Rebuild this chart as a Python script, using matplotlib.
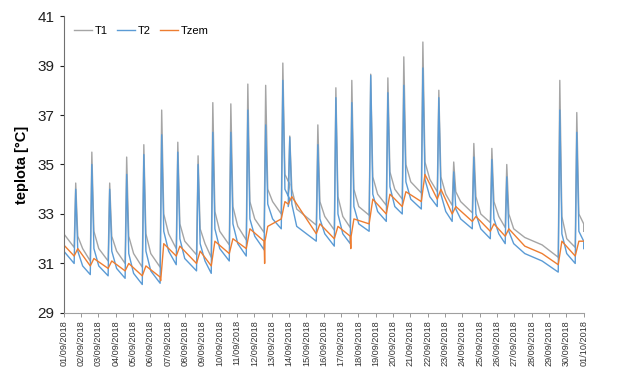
import matplotlib
matplotlib.use("Agg")
import matplotlib.pyplot as plt
import numpy as np

plt.rcParams['font.family'] = ['Liberation Sans', 'DejaVu Sans']

# ---------------- data ----------------
date_labels = ["%02d/09/2018" % d for d in range(1, 31)] + ["01/10/2018"]

# spike time (in days from 01/09 00:00); None = no spike that day
spike_t = [0.69, 1.62, 2.65, 3.63, 4.62, 5.65, 6.58, 7.75, 8.60, 9.64,
           10.62, 11.65, 12.64, 13.04, 14.66, 15.70, 16.62, 17.71, 18.70, 19.62,
           20.72, 21.64, 22.50, 23.66, 24.70, 25.56, None, None, 28.62, 29.60]

# T1 (grey)
t1_start, t1_end = 32.2, 32.3
t1_min = [31.65, 31.10, 31.10, 31.00, 30.85, 30.85, 31.60, 31.35, 31.25, 31.75,
          31.95, 32.25, 33.00, 33.80, 32.55, 32.35, 32.45, 32.95, 33.35, 33.60,
          33.85, 33.90, 33.35, 33.05, 32.65, 32.45, 32.05, 31.75, 31.25, 31.65]
t1_peak = [34.25, 35.5, 34.25, 35.3, 35.8, 37.2, 35.9, 35.35, 37.5, 37.45,
           38.25, 38.2, 39.1, 36.15, 36.6, 38.1, 38.4, 38.65, 38.5, 39.35,
           39.95, 38.0, 35.1, 35.85, 35.65, 35.0, None, None, 38.4, 37.1]
t1_after = [32.1, 32.3, 32.1, 32.1, 32.2, 33.0, 32.6, 32.4, 33.1, 33.3,
            33.5, 34.0, 34.6, 34.0, 33.5, 33.7, 34.0, 34.5, 34.7, 35.0,
            35.1, 34.5, 33.9, 33.7, 33.5, 33.0, None, None, 32.9, 33.0]
t1_mid = [31.6, 31.6, 31.5, 31.4, 31.4, 32.2, 31.9, 31.8, 32.3, 32.5,
          32.8, 33.5, 34.2, 33.2, 32.9, 32.9, 33.3, 33.8, 34.0, 34.3,
          34.4, 33.8, 33.5, 33.0, 32.9, 32.4, None, None, 32.0, 32.6]

# T2 (blue)
t2_start, t2_end = 31.5, 31.6
t2_min = [31.00, 30.55, 30.50, 30.40, 30.15, 30.20, 30.95, 30.70, 30.60, 31.10,
          31.30, 31.55, 32.40, 33.30, 31.90, 31.70, 31.80, 32.30, 32.70, 33.00,
          33.20, 33.30, 32.70, 32.40, 32.00, 31.80, 31.40, 31.10, 30.65, 31.00]
t2_peak = [34.0, 35.0, 34.0, 34.6, 35.4, 36.2, 35.5, 35.0, 36.3, 36.3,
           37.2, 36.6, 38.4, 36.1, 35.8, 37.7, 37.5, 38.6, 37.9, 38.2,
           38.9, 37.7, 34.7, 35.3, 35.2, 34.5, None, None, 37.2, 36.3]
t2_after = [31.5, 31.6, 31.5, 31.4, 31.5, 32.3, 32.0, 31.8, 32.4, 32.6,
            32.8, 33.4, 34.0, 33.4, 32.8, 33.0, 33.3, 33.8, 34.1, 34.3,
            34.4, 33.8, 33.2, 33.0, 32.8, 32.3, None, None, 32.2, 32.3]
t2_mid = [30.9, 30.9, 30.8, 30.6, 30.7, 31.5, 31.2, 31.1, 31.6, 31.8,
          32.1, 32.8, 33.6, 32.5, 32.2, 32.2, 32.6, 33.1, 33.3, 33.6,
          33.7, 33.1, 32.8, 32.4, 32.2, 31.8, None, None, 31.4, 31.9]

# Tzem (orange)
tz_start, tz_end = 31.75, 31.9
tz_min = [31.30, 30.90, 30.80, 30.70, 30.50, 30.45, 31.30, 31.00, 30.90, 31.40,
          31.60, 31.90, 32.80, 33.40, 32.20, 32.00, 32.10, 32.60, 33.00, 33.30,
          33.50, 33.60, 33.00, 32.70, 32.30, 32.10, 31.70, 31.40, 30.95, 31.30]
tz_after = [31.6, 31.2, 31.1, 31.0, 30.9, 31.8, 31.7, 31.5, 31.9, 32.0,
            32.4, 32.5, 33.5, 33.7, 32.6, 32.5, 32.8, 33.6, 33.8, 33.9,
            34.6, 34.0, 33.3, 32.9, 32.6, 32.4, None, None, 31.9, 31.9]
tz_dip = {5: 30.3, 11: 31.0, 16: 31.6}

# ---------------- build series ----------------
def build(start, end, mins, peaks, afters, mids=None, dips=None):
    xs, ys = [0.0], [start]
    for d in range(30):
        ts = spike_t[d]
        if ts is None:
            xs.append(d + 0.6); ys.append(mins[d])
            continue
        xs.append(ts - 0.09); ys.append(mins[d])
        if dips and d in dips:
            xs += [ts - 0.06, ts - 0.04]; ys += [dips[d], mins[d]]
        if peaks[d] is not None:
            xs.append(ts); ys.append(peaks[d])
        xs.append(ts + 0.12); ys.append(afters[d])
        if mids is not None:
            xs.append(ts + 0.4); ys.append(mids[d])
    xs.append(30.0); ys.append(end)
    return np.array(xs), np.array(ys)

x1, y1 = build(t1_start, t1_end, t1_min, t1_peak, t1_after, t1_mid)
x2, y2 = build(t2_start, t2_end, t2_min, t2_peak, t2_after, t2_mid)
xz, yz = build(tz_start, tz_end, tz_min, [None] * 30, tz_after, None, tz_dip)

# ---------------- plot ----------------
fig = plt.figure(figsize=(6.19, 3.73), dpi=100)
ax = fig.add_axes([0.103, 0.161, 0.840, 0.796])

ax.plot(x1, y1, color="#a5a5a5", lw=1.0, label="T1")
ax.plot(x2, y2, color="#5b9bd5", lw=1.0, label="T2")
ax.plot(xz, yz, color="#ed7d31", lw=1.0, label="Tzem")

ax.set_xlim(0, 30)
ax.set_ylim(29, 41)
ax.set_yticks([29, 31, 33, 35, 37, 39, 41])
ax.set_xticks(range(31))
ax.set_xticklabels(date_labels, rotation=90, fontsize=6.6, color="#333333")
ax.tick_params(axis="y", labelsize=11, colors="#202020", length=3, width=0.8)
ax.tick_params(axis="x", length=3, width=0.6, color="#888888", pad=2)

for s in ["top", "right"]:
    ax.spines[s].set_visible(False)
ax.spines["left"].set_color("#707070")
ax.spines["bottom"].set_color("#a0a0a0")

ax.set_ylabel("teplota [°C]", fontsize=10.5, fontweight="bold", labelpad=6)

leg = ax.legend(loc="upper left", ncol=3, frameon=False, fontsize=8,
                handlelength=1.6, handletextpad=0.3, columnspacing=0.8,
                bbox_to_anchor=(0.0, 1.0))

fig.savefig("out.png", dpi=100)
